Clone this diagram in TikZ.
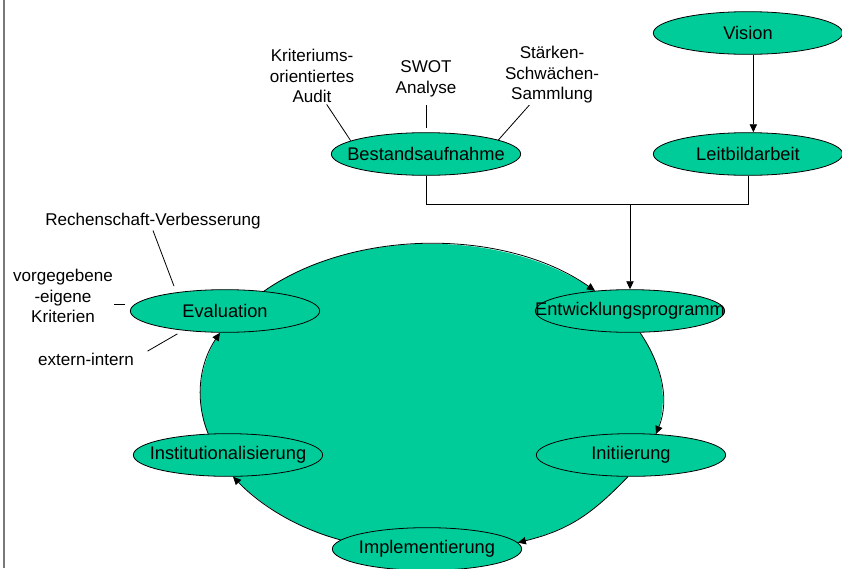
\documentclass[tikz,border=0pt]{standalone}
\usepackage{fontspec}
\setmainfont{Liberation Sans}
\definecolor{stagegreen}{RGB}{0, 204, 153}
\definecolor{framegray}{RGB}{120, 120, 120}
\usetikzlibrary{shapes, arrows.meta, positioning, calc, backgrounds}

\begin{document}
\begin{tikzpicture}[x=0.75pt, y=0.75pt,
  stage/.style={ellipse, draw=black, line width=0.6pt, fill=stagegreen, minimum width=142pt, minimum height=32pt, inner xsep=-22pt, inner ysep=0pt, font=\fontsize{13.7}{16}\selectfont},
  note/.style={align=center, inner sep=1pt, font=\fontsize{12.8}{15.4}\selectfont},
  flow/.style={-{Triangle[length=6pt, width=5.5pt]}, line width=0.6pt},
  tick/.style={line width=0.6pt}]
  \useasboundingbox (0,0) rectangle (842,-568);
  \clip (0,0) rectangle (842,-568);

  % left frame
  \draw[framegray, line width=1.5pt] (4,0) -- (4,-568);

  % Vision & Leitbild
  \node[stage] (vision) at (748,-33) {Vision};
  \node[stage] (leit) at (748,-154) {Leitbildarbeit};
  \draw[flow] ([xshift=4pt]vision.south) -- ([xshift=4pt]leit.north);

  % Bestandsaufnahme
  \node[stage] (bestand) at (426,-154) {Bestandsaufnahme};
  \node[note] (krit) at (312,-76) {Kriteriums-\\orientiertes\\Audit};
  \node[note] (swot) at (426,-79) {SWOT\\Analyse};
  \node[note] (staerk) at (552,-75) {Stärken-\\Schwächen-\\Sammlung};
  \draw[tick] ([xshift=11pt]krit.south) -- (bestand.170);
  \draw[tick, shorten <=5pt, shorten >=3pt] (swot.south) -- (bestand.north);
  \draw[tick] ([xshift=-17pt]staerk.south) -- (bestand.11);

  % cycle
  \node[stage] (entw) at (630,-311) {Entwicklungsprogramm};
  \node[stage] (init) at (631,-455) {Initiierung};
  \node[stage] (impl) at (427,-549) {Implementierung};
  \node[stage] (inst) at (228,-455) {Institutionalisierung};
  \node[stage] (eval) at (225,-311) {Evaluation};

  \begin{scope}[on background layer]
    \fill[stagegreen] (eval.27) to[out=35, in=145, looseness=0.85] (entw.150)
      -- (entw.-65) to[out=-56, in=68, looseness=0.94] (init.40)
      -- (init.-98) to[out=-134, in=14, looseness=1.05] (impl.4)
      -- (impl.174) to[out=165, in=-46, looseness=0.87] (inst.-77)
      -- (inst.133) to[out=112, in=-124, looseness=0.93] (eval.-103) -- cycle;
  \end{scope}
  \draw[flow] (eval.27) to[out=35, in=145, looseness=0.85] (entw.150);
  \draw[flow] (entw.-65) to[out=-56, in=68, looseness=0.94] (init.40);
  \draw[flow] (init.-98) to[out=-134, in=14, looseness=1.05] (impl.4);
  \draw[flow] (impl.174) to[out=165, in=-46, looseness=0.87] (inst.-77);
  \draw[flow] (inst.133) to[out=112, in=-124, looseness=0.93] (eval.-103);

  % into Entwicklungsprogramm
  \coordinate (join) at (630,-204);
  \draw[tick] (bestand.south) |- (join);
  \draw[tick] (leit.south) |- (join);
  \draw[flow] (join) -- (entw.north);

  % Evaluation labels
  \node[note] (rech) at (153,-221) {Rechenschaft-Verbesserung};
  \node[note] (vorg) at (63,-296) {vorgegebene\\-eigene\\Kriterien};
  \node[note] (extern) at (86,-359) {extern-intern};
  \draw[tick, shorten >=5pt] (rech.south) -- (eval.159);
  \draw[tick] ([yshift=-6pt]vorg.east) -- ++(8pt,0);
  \draw[tick, shorten >=5pt] ([xshift=9pt]extern.north east) -- (eval.205);
\end{tikzpicture}
\end{document}
